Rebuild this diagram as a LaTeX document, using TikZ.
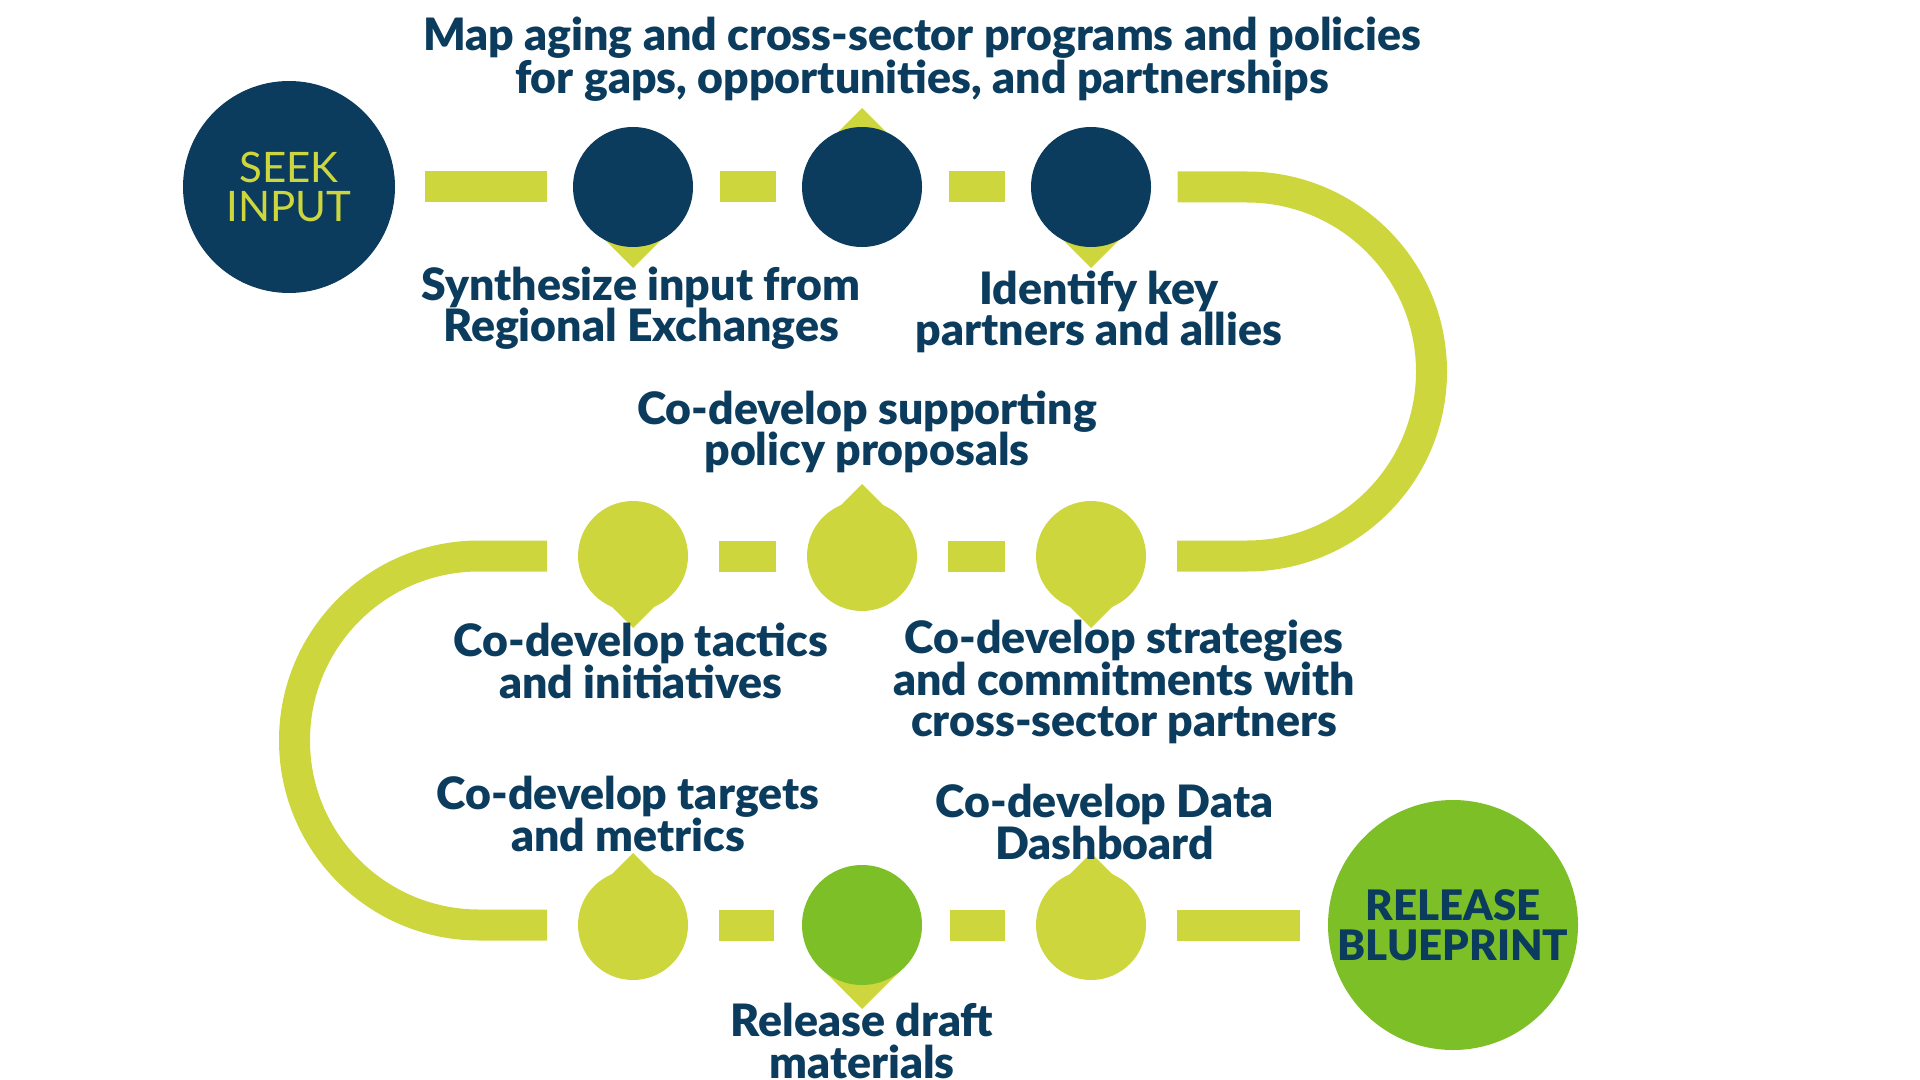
\documentclass[tikz,border=0pt]{standalone}
\usepackage{fontspec}
\setmainfont{Lato}[BoldFont={Lato Black}]
\usepackage{xcolor}
\usetikzlibrary{calc,positioning,backgrounds}
\definecolor{navy}{HTML}{0B3C5D}
\definecolor{lime}{HTML}{CDD73D}
\definecolor{leaf}{HTML}{7CBF27}

\begin{document}
\begin{tikzpicture}[x=0.5pt, y=-0.5pt, track/.style={draw=lime, line width=#1}, track/.default=15.5pt]
    % Define styles for steps, end points and captions
    \tikzstyle{stepdark} = [circle, fill=navy, minimum size=60pt, inner sep=0pt, outer sep=13.25pt]
    \tikzstyle{steplime} = [circle, fill=lime, minimum size=55pt, inner sep=0pt, outer sep=15.5pt]
    \tikzstyle{stepleaf} = [circle, fill=leaf, minimum size=60pt, inner sep=0pt, outer sep=14pt]
    \tikzstyle{endpoint} = [circle, inner sep=0pt, align=center, font=\fontsize{21}{19.5}\selectfont]
    \tikzstyle{steptext} = [text=navy, align=center, font=\bfseries\fontsize{22.3}{20.75}\selectfont]

    \useasboundingbox (0,0) rectangle (1920,1080);

    % Nodes placement
    \node [endpoint, fill=navy, text=lime, minimum size=106pt, outer sep=15pt] (seek) at (289,187) {SEEK\\INPUT};
    \node [stepdark, right of=seek, node distance=172pt] (s1) {};
    \node [stepdark, right of=s1, node distance=114.5pt] (s2) {};
    \node [stepdark, right of=s2, node distance=114.5pt] (s3) {};

    \node [steplime, below of=s3, node distance=184.5pt] (t3) {};
    \node [steplime, left of=t3, node distance=114.5pt] (t2) {};
    \node [steplime, left of=t2, node distance=114.5pt] (t1) {};

    \node [steplime, below of=t1, node distance=184.5pt] (u1) {};
    \node [stepleaf, right of=u1, node distance=114.5pt] (u2) {};
    \node [steplime, right of=u2, node distance=114.5pt] (u3) {};
    \node [endpoint, fill=leaf, text=navy, font=\bfseries\fontsize{21}{20}\selectfont, minimum size=125pt, outer sep=14pt, right of=u3, node distance=181pt] (release) {RELEASE\\BLUEPRINT};

    \begin{scope}[on background layer]
    % Draw track
    \draw[track] (seek) -- (s1);
    \draw[track] (s1) -- (s2);
    \draw[track] (s2) -- (s3);
    \draw[track] (s3) -- ++(156,0) arc[start angle=-90, end angle=90, radius=184.5] -- (t3);
    \draw[track] (t3) -- (t2);
    \draw[track] (t2) -- (t1);
    \draw[track] (t1) -- ++(-154,0) arc[start angle=-90, end angle=-270, radius=184.5] -- (u1);
    \draw[track] (u1) -- (u2);
    \draw[track] (u2) -- (u3);
    \draw[track] (u3) -- (release);

    % Pointers behind the steps
    \fill[lime] ($(s1)+(-45,36)$) -- ($(s1)+(45,36)$) -- ($(s1)+(0,81)$) -- cycle;
    \fill[lime] ($(s2)+(-43,-36)$) -- ($(s2)+(43,-36)$) -- ($(s2)+(0,-79)$) -- cycle;
    \fill[lime] ($(s3)+(-45,36)$) -- ($(s3)+(45,36)$) -- ($(s3)+(0,81)$) -- cycle;
    \fill[lime] ($(t1)+(-39,33)$) -- ($(t1)+(39,33)$) -- ($(t1)+(0,72)$) -- cycle;
    \fill[lime] ($(t2)+(-39,-33)$) -- ($(t2)+(39,-33)$) -- ($(t2)+(0,-72)$) -- cycle;
    \fill[lime] ($(t3)+(-39,33)$) -- ($(t3)+(39,33)$) -- ($(t3)+(0,72)$) -- cycle;
    \fill[lime] ($(u1)+(-39,-33)$) -- ($(u1)+(39,-33)$) -- ($(u1)+(0,-72)$) -- cycle;
    \fill[lime] ($(u2)+(-46,38)$) -- ($(u2)+(46,38)$) -- ($(u2)+(0,84)$) -- cycle;
    \fill[lime] ($(u3)+(-39,-33)$) -- ($(u3)+(39,-33)$) -- ($(u3)+(0,-72)$) -- cycle;
    \end{scope}

    % Captions
    \node [steptext, above of=s2, node distance=64pt, xshift=30pt] (maptext) {Map aging and cross-sector programs and policies\\for gaps, opportunities, and partnerships};
    \node [steptext, below of=s1, node distance=60.5pt, xshift=4pt] (synthtext) {Synthesize input from\\Regional Exchanges};
    \node [steptext, below of=s3, node distance=62.5pt, xshift=4pt] (partnertext) {Identify key\\partners and allies};
    \node [steptext, above of=t2, node distance=62pt, xshift=2.5pt] (policytext) {Co-develop supporting\\policy proposals};
    \node [steptext, below of=t1, node distance=52.5pt, xshift=4pt] (tactictext) {Co-develop tactics\\and initiatives};
    \node [steptext, below of=t3, node distance=63pt, xshift=16.5pt] (strategytext) {Co-develop strategies\\and commitments with\\cross-sector partners};
    \node [steptext, above of=u1, node distance=55.5pt, xshift=-2.5pt] (targettext) {Co-develop targets\\and metrics};
    \node [steptext, below of=u2, node distance=58pt] (drafttext) {Release draft\\materials};
    \node [steptext, above of=u3, node distance=51.5pt, xshift=6.75pt] (dashtext) {Co-develop Data\\Dashboard};
\end{tikzpicture}
\end{document}
